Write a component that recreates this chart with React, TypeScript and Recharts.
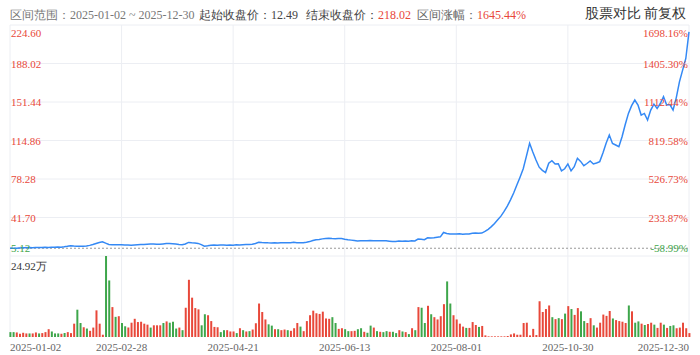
import React from 'react';
import { LineChart, Line, XAxis, YAxis, CartesianGrid, ReferenceLine, BarChart, Bar, Cell } from 'recharts';

// 收盘价 (one value per trading day)
const closePrices: number[] = [
  12.49, 12.6, 12.5, 12.7, 12.9, 13.0, 13.1, 13.0, 13.2, 13.3,
  13.2, 13.4, 13.3, 13.4, 13.5, 13.6, 13.5, 13.8, 14.3, 14.9,
  14.6, 14.5, 14.4, 14.3, 14.6, 15.2, 16.0, 17.0, 18.0, 18.7,
  17.3, 16.1, 15.9, 15.9, 15.8, 15.7, 15.5, 15.5, 15.4, 15.6,
  15.8, 16.0, 16.1, 16.3, 16.5, 16.6, 16.4, 16.3, 16.6, 16.9,
  17.0, 16.8, 16.5, 16.1, 15.8, 16.5, 18.0, 17.6, 17.4, 17.1,
  15.9, 14.4, 14.8, 15.3, 15.5, 15.4, 15.6, 15.5, 15.3, 15.6,
  15.4, 15.8, 15.6, 15.9, 16.0, 16.1, 16.2, 17.0, 18.1, 17.9,
  17.8, 17.6, 17.5, 17.6, 17.5, 17.6, 17.7, 17.6, 17.7, 18.2,
  17.8, 17.6, 17.7, 18.2, 18.8, 19.9, 20.6, 20.7, 21.4, 21.8,
  21.9, 21.7, 21.6, 21.8, 21.7, 21.1, 20.6, 20.2, 19.8, 19.4,
  19.5, 19.6, 19.5, 19.8, 19.7, 19.6, 19.7, 19.5, 19.6, 19.2,
  18.8, 19.0, 19.3, 19.2, 19.4, 19.2, 19.5, 19.4, 21.2, 21.0,
  20.6, 22.4, 22.3, 22.5, 23.0, 23.3, 27.5, 26.5, 26.1, 26.0,
  26.0, 26.2, 25.9, 26.0, 26.1, 26.8, 26.9, 26.8, 26.9, 28.5,
  30.5, 33.0, 36.0, 39.5, 43.0, 47.5, 52.5, 58.5, 65.0, 72.5,
  80.0, 88.0, 100.0, 112.2, 104.0, 96.4, 89.5, 86.5, 84.4, 93.3,
  95.7, 92.6, 92.8, 86.0, 88.0, 92.6, 86.0, 90.0, 98.0, 95.0,
  91.0, 93.0, 95.4, 92.6, 93.5, 94.8, 103.0, 112.2, 120.0, 112.0,
  110.6, 109.0, 118.4, 130.0, 140.6, 148.0, 153.3, 148.5, 139.0, 140.6,
  134.3, 143.8, 149.5, 145.4, 150.0, 156.4, 148.5, 149.0, 143.8, 155.4,
  170.6, 181.7, 192.8, 218.02,
];

// 成交量 (万股)
const volumes: number[] = [
  1.5, 1.5, 1.4, 1.0, 1.3, 1.1, 1.1, 1.1, 1.4, 1.1,
  1.2, 1.5, 2.4, 1.7, 1.1, 1.1, 1.0, 1.2, 1.5, 1.2,
  4.1, 8.4, 4.3, 3.0, 2.6, 1.9, 2.9, 8.2, 4.1, 0.7,
  24.92, 17.4, 9.2, 6.2, 6.4, 4.3, 3.3, 2.9, 4.4, 5.6,
  4.6, 4.7, 4.1, 3.8, 2.9, 3.6, 3.6, 3.6, 4.3, 4.8,
  4.4, 4.7, 2.6, 2.9, 2.1, 9.0, 17.6, 12.1, 8.9, 8.5,
  3.6, 7.0, 6.7, 4.9, 3.1, 3.0, 1.5, 2.1, 2.1, 1.7,
  1.7, 1.2, 2.7, 2.1, 1.7, 1.8, 2.3, 4.2, 10.3, 7.7,
  5.4, 3.9, 3.5, 2.4, 2.4, 2.1, 2.3, 2.1, 1.9, 2.7,
  4.3, 3.2, 1.8, 4.9, 6.7, 8.1, 7.3, 7.1, 7.8, 5.7,
  5.6, 6.1, 4.3, 2.5, 2.7, 2.4, 1.8, 1.8, 1.9, 2.4,
  2.7, 1.6, 1.3, 3.5, 2.9, 1.8, 1.6, 1.5, 1.8, 1.6,
  1.6, 1.2, 2.1, 1.7, 1.5, 0.9, 2.7, 2.1, 9.2, 9.0,
  4.3, 9.6, 7.0, 6.1, 5.4, 6.4, 10.1, 17.1, 10.3, 6.7,
  5.4, 4.1, 3.2, 2.8, 2.8, 4.6, 3.7, 3.1, 3.4, 0.5,
  0.2, 0.2, 0.2, 0.2, 0.2, 0.2, 0.3, 0.8, 1.1, 0.7,
  0.7, 4.3, 4.4, 0.5, 2.5, 0.6, 11.0, 7.7, 8.6, 9.7,
  6.1, 5.5, 5.8, 5.5, 7.2, 9.5, 8.6, 6.8, 8.9, 7.9,
  4.9, 4.3, 5.8, 3.6, 2.9, 4.4, 6.9, 6.5, 8.0, 5.7,
  5.2, 4.9, 4.7, 4.3, 9.7, 7.9, 4.4, 4.8, 4.1, 3.7,
  4.0, 4.4, 3.8, 2.8, 4.4, 3.8, 2.8, 3.4, 3.6, 2.7,
  2.9, 4.4, 2.7, 1.2,
];

// 1 = 红 (收涨), 0 = 绿 (收跌)
const volumeUp: number[] = [
  0, 0, 1, 1, 1, 1, 0, 1, 1, 0,
  1, 1, 1, 0, 0, 0, 1, 0, 1, 1,
  1, 0, 0, 1, 0, 1, 1, 1, 1, 1,
  0, 0, 1, 0, 1, 0, 0, 1, 1, 1,
  1, 1, 1, 1, 0, 1, 1, 1, 0, 1,
  0, 0, 0, 1, 0, 1, 1, 1, 1, 1,
  0, 0, 1, 1, 1, 1, 0, 0, 1, 1,
  1, 0, 1, 0, 1, 0, 1, 1, 1, 1,
  1, 0, 0, 1, 0, 1, 1, 0, 1, 1,
  1, 0, 1, 1, 1, 1, 1, 1, 1, 1,
  1, 0, 0, 1, 1, 0, 0, 1, 1, 0,
  0, 1, 0, 0, 1, 0, 1, 0, 0, 1,
  0, 0, 1, 0, 1, 0, 1, 0, 1, 0,
  0, 1, 0, 1, 1, 1, 1, 0, 0, 1,
  1, 1, 1, 0, 1, 1, 1, 0, 1, 1,
  1, 1, 1, 1, 1, 1, 1, 1, 1, 1,
  1, 1, 1, 1, 1, 1, 1, 1, 1, 1,
  0, 1, 0, 1, 0, 1, 0, 1, 1, 0,
  0, 1, 1, 0, 1, 1, 1, 1, 1, 0,
  1, 1, 1, 1, 0, 1, 0, 0, 1, 0,
  1, 1, 0, 1, 1, 0, 1, 0, 0, 1,
  1, 1, 1, 1,
];

const xTickIndex: number[] = [0, 35, 70, 105, 140, 175, 213];
const xTickLabels: string[] = ['2025-01-02', '2025-02-28', '2025-04-21', '2025-06-13', '2025-08-01', '2025-10-30', '2025-12-30'];
const priceTicks: number[] = [5.12, 41.7, 78.28, 114.86, 151.44, 188.02, 224.6];
const pctTickLabels: string[] = ['-58.99%', '233.87%', '526.73%', '819.58%', '1112.44%', '1405.30%', '1698.16%'];
const dateRange: string[] = ['2025-01-02', '2025-12-30'];
const startClose = 12.49;
const endClose = 218.02;
const rangeChange = '1645.44%';

const RED = '#e8483a';
const GREEN = '#3ea64b';
const GRID = '#eceef3';
const LINE = '#3489f5';

const rows = closePrices.map((c, i) => ({ i, close: c, vol: volumes[i], up: volumeUp[i] }));
const lastIndex = closePrices.length - 1;
const maxVol = Math.max(...volumes);

const LeftTick = (props: any) => {
  const { x, y, payload, index } = props;
  const v = payload.value as number;
  const n = priceTicks.length;
  const dy = index === n - 1 ? 7.5 : index === 0 ? -8 : 0;
  return (
    <text x={x} y={y + dy} dominantBaseline="central" textAnchor="start" fontSize={11} fill={v < startClose ? GREEN : RED}>
      {v.toFixed(2)}
    </text>
  );
};

const RightTick = (props: any) => {
  const { x, y, payload, index } = props;
  const v = payload.value as number;
  const n = priceTicks.length;
  const dy = index === n - 1 ? 7.5 : index === 0 ? -8 : 0;
  return (
    <text x={x} y={y + dy} dominantBaseline="central" textAnchor="end" fontSize={11} fill={v < startClose ? GREEN : RED}>
      {pctTickLabels[index]}
    </text>
  );
};

const DateTick = (props: any) => {
  const { x, y, index } = props;
  const n = xTickIndex.length;
  const anchor = index === 0 ? 'start' : index === n - 1 ? 'end' : 'middle';
  return (
    <text x={x} y={y + 10} dominantBaseline="central" textAnchor={anchor} fontSize={11} fill="#666">
      {xTickLabels[index]}
    </text>
  );
};

const VolTick = (props: any) => {
  const { x, y, payload } = props;
  return (
    <text x={x} y={y + 10} dominantBaseline="central" textAnchor="start" fontSize={11} fill="#333">
      {(payload.value as number).toFixed(2)}万
    </text>
  );
};

const headerBase: React.CSSProperties = {
  position: 'absolute',
  top: 7,
  lineHeight: '16px',
  fontSize: 12,
  whiteSpace: 'nowrap',
};

export default function App() {
  return (
    <div style={{ position: 'absolute', left: 0, top: 0, width: 700, height: 355, background: '#fff', overflow: 'hidden' }}>
      <span style={{ ...headerBase, left: 10, color: '#777' }}>
        区间范围：{dateRange[0]} ~ {dateRange[1]}
      </span>
      <span style={{ ...headerBase, left: 199, color: '#444' }}>
        起始收盘价：{startClose.toFixed(2)}
      </span>
      <span style={{ ...headerBase, left: 306, color: '#444' }}>
        结束收盘价：<span style={{ color: RED }}>{endClose.toFixed(2)}</span>
      </span>
      <span style={{ ...headerBase, left: 417, color: '#666' }}>
        区间涨幅：<span style={{ color: RED }}>{rangeChange}</span>
      </span>
      <span style={{ ...headerBase, right: 14, top: 6, fontSize: 14, color: '#333' }}>股票对比 前复权</span>

      <div style={{ position: 'absolute', left: 0, top: 0 }}>
        <LineChart width={700} height={257} data={rows} margin={{ top: 25, right: 11, bottom: 1, left: 10 }}>
          <CartesianGrid stroke={GRID} yAxisId="p" />
          <XAxis dataKey="i" type="number" domain={[0, lastIndex]} ticks={xTickIndex} hide />
          <YAxis
            yAxisId="p"
            type="number"
            domain={[priceTicks[0], priceTicks[priceTicks.length - 1]]}
            ticks={priceTicks}
            interval={0}
            mirror
            axisLine={false}
            tickLine={false}
            tickSize={0}
            tickMargin={1}
            tick={<LeftTick />}
          />
          <YAxis
            yAxisId="r"
            orientation="right"
            type="number"
            domain={[priceTicks[0], priceTicks[priceTicks.length - 1]]}
            ticks={priceTicks}
            interval={0}
            mirror
            axisLine={false}
            tickLine={false}
            tickSize={0}
            tickMargin={1}
            tick={<RightTick />}
          />
          <ReferenceLine yAxisId="p" y={startClose} stroke="#999" strokeDasharray="2 2" />
          <Line
            yAxisId="r"
            type="linear"
            dataKey="close"
            stroke="none"
            strokeWidth={0}
            dot={false}
            activeDot={false}
            legendType="none"
            isAnimationActive={false}
          />
          <Line
            yAxisId="p"
            type="linear"
            dataKey="close"
            stroke={LINE}
            strokeWidth={1.5}
            dot={false}
            isAnimationActive={false}
          />
        </LineChart>
      </div>

      <div style={{ position: 'absolute', left: 0, top: 256 }}>
        <BarChart width={700} height={99} data={rows} margin={{ top: 0, right: 11, bottom: 0, left: 10 }}>
          <CartesianGrid stroke={GRID} horizontal={false} />
          <XAxis
            dataKey="i"
            type="number"
            domain={[0, lastIndex]}
            ticks={xTickIndex}
            interval={0}
            height={18}
            axisLine={false}
            tickLine={false}
            tickSize={0}
            tickMargin={0}
            tick={<DateTick />}
          />
          <YAxis
            type="number"
            domain={[0, maxVol]}
            ticks={[maxVol]}
            interval={0}
            mirror
            axisLine={false}
            tickLine={false}
            tickSize={0}
            tickMargin={1}
            tick={<VolTick />}
          />
          <Bar dataKey="vol" barSize={2} isAnimationActive={false}>
            {rows.map((r) => (
              <Cell key={r.i} fill={r.up ? RED : GREEN} />
            ))}
          </Bar>
        </BarChart>
      </div>
    </div>
  );
}
